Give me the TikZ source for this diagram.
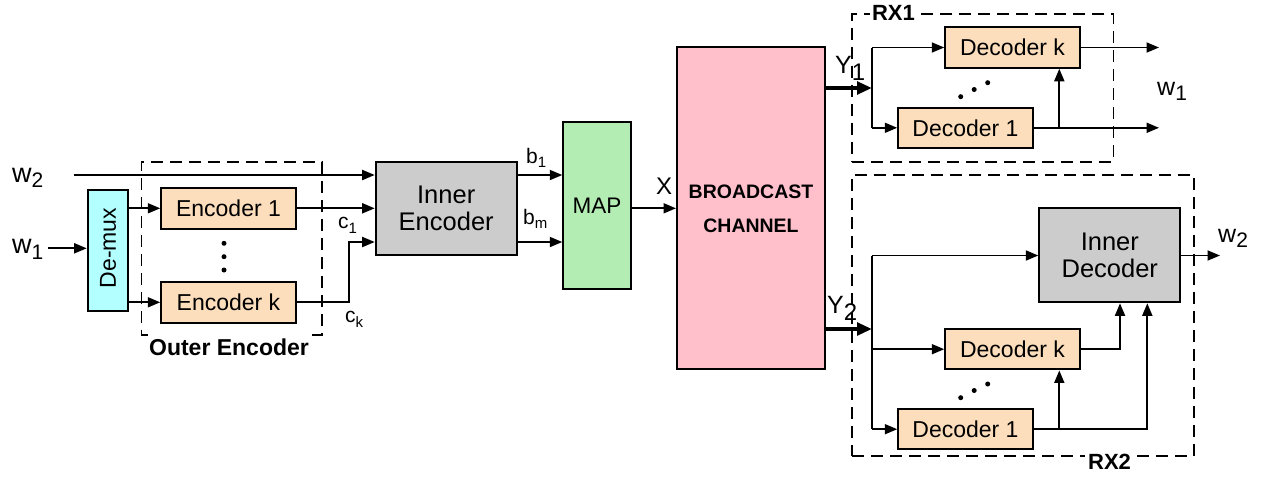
\documentclass[tikz,border=0pt]{standalone}
\usepackage{fontspec}
\setmainfont{Liberation Sans}
\usetikzlibrary{arrows.meta}
\definecolor{cyanbox}{RGB}{179,255,255}
\definecolor{peach}{RGB}{252,222,188}
\definecolor{graybox}{RGB}{204,204,204}
\definecolor{greenbox}{RGB}{179,237,179}
\definecolor{pinkbox}{RGB}{255,192,203}
\newcommand\fsz[1]{\fontsize{#1}{#1}\selectfont}
\newcommand\lsub[3]{\raisebox{-#1pt}{\fsz{#2}#3}}
\begin{document}
\begin{tikzpicture}[x=1pt,y=-1pt,
  blk/.style={draw, line width=2pt, inner sep=0pt, align=center},
  enc/.style={blk, fill=peach, minimum width=134.5pt, minimum height=40.5pt, font=\fsz{23}},
  arr/.style={line width=1.8pt, -{Triangle[length=12.5pt,width=10pt]}},
  ln/.style={line width=1.8pt},
  thk/.style={line width=4pt, -{Triangle[length=15pt,width=12.5pt]}},
  dbox/.style={draw, line width=1.6pt, dash pattern=on 12pt off 7pt, inner sep=0pt},
  lbl/.style={inner sep=0pt, anchor=base west},
  grp/.style={fill=white, anchor=base, font=\bfseries\fsz{22}},
  dotr/.style={fill=black},
]
\useasboundingbox (0,0) rectangle (1271,477);

% dashed group boxes
\node[dbox, minimum width=180.7pt, minimum height=173.3pt] (outer) at (231.65,248.35) {};
\node[dbox, minimum width=261.3pt, minimum height=147.7pt] (rx1) at (982.65,87.85) {};
\node[dbox, minimum width=342pt, minimum height=280.7pt] (rx2) at (1023,315.35) {};

% transmitter blocks
\node[blk, fill=cyanbox, minimum width=40.6pt, minimum height=120.7pt] (dm) at (108,250.3) {};
\node[rotate=90, inner sep=0pt, font=\fsz{23}] (dmt) at (108,248) {De-mux};
\node[enc] (e1) at (228.5,208.3) {Encoder 1};
\node[enc] (ek) at (228.5,302.3) {Encoder k};
\node[blk, fill=graybox, minimum width=141pt, minimum height=93.6pt, font=\fontsize{25.5}{27}\selectfont] (ie) at (446.2,208.5) {Inner\\Encoder};
\node[blk, fill=greenbox, minimum width=67.4pt, minimum height=167.3pt, font=\fsz{22.5}] (map) at (597,205.3) {MAP};
\node[blk, fill=pinkbox, minimum width=148pt, minimum height=322pt, font=\bfseries\fontsize{19.5}{34}\selectfont] (bc) at (751,208.3) {BROADCAST\\CHANNEL};

% receiver 1
\node[enc] (dk1) at (1012.5,47.5) {Decoder k};
\node[enc] (d11) at (965.5,127.8) {Decoder 1};
% receiver 2
\node[blk, fill=graybox, minimum width=141pt, minimum height=94pt, font=\fontsize{25.5}{27}\selectfont] (id) at (1109.8,255.3) {Inner\\Decoder};
\node[enc] (dk2) at (1012.5,349.2) {Decoder k};
\node[enc] (d12) at (965.5,429.2) {Decoder 1};

% group labels
\node[grp, inner xsep=1pt, inner ysep=5pt, font=\bfseries\fsz{23}] (lout) at (229,355) {Outer Encoder};
\node[grp, inner xsep=2pt, inner ysep=4pt] (lrx1) at (893.5,20) {RX1};
\node[grp, inner xsep=3pt, inner ysep=4pt] (lrx2) at (1109.5,469) {RX2};

% signal labels
\node[lbl, font=\fsz{27}] (lw2) at (12,182) {w\lsub{5}{21}{2}};
\node[lbl, font=\fsz{27}] (lw1) at (12,253) {w\lsub{6}{21}{1}};
\node[lbl, font=\fsz{21}] (lc1) at (338,228) {c\lsub{5}{15}{1}};
\node[lbl, font=\fsz{21}] (lck) at (345,322) {c\lsub{5}{15}{k}};
\node[lbl, font=\fsz{21}] (lb1) at (526,163) {b\lsub{4}{15}{1}};
\node[lbl, font=\fsz{21}] (lbm) at (523,224) {b\lsub{4}{15}{m}};
\node[lbl, font=\fsz{24}] (lx) at (656,194) {X};
\node[lbl, font=\fsz{25}] (ly1) at (835,73) {Y\lsub{7}{24}{1}};
\node[lbl, font=\fsz{25}] (ly2) at (827,313) {Y\lsub{7}{24}{2}};
\node[lbl, font=\fsz{25}] (rw1) at (1157,95) {w\lsub{5}{21}{1}};
\node[lbl, font=\fsz{25}] (rw2) at (1218,242) {w\lsub{5}{21}{2}};

% transmitter connectors
\coordinate (w2s) at (74,175);
\draw[arr] (w2s) -- (w2s -| ie.west);
\coordinate (w1s) at (48,248.3);
\draw[arr] (w1s) -- (w1s -| dm.west);
\draw[arr] (dm.east |- e1.west) -- (e1.west);
\draw[arr] (dm.east |- ek.west) -- (ek.west);
\draw[arr] (e1.east) -- (e1.east -| ie.west);
\coordinate (ckb) at (349,242);
\draw[arr] (ek.east) -| (ckb) -- (ckb -| ie.west);
\coordinate (yb1) at (0,175);
\coordinate (ybm) at (0,242);
\draw[arr] (ie.east |- yb1) -- (map.west |- yb1);
\draw[arr] (ie.east |- ybm) -- (map.west |- ybm);
\draw[arr] (map.east |- bc.west) -- (bc.west);
\foreach \yy in {243.3,256.7,270} \fill[dotr] (224,\yy) circle (2.5pt);

% receiver 1 connectors
\coordinate (br1) at (872,88);
\draw[thk] (bc.east |- br1) -- (br1);
\coordinate (t1) at (872,47.5);
\coordinate (u1) at (872,127.8);
\draw[ln] (t1) -- (u1);
\draw[arr] (t1) -- (dk1.west);
\draw[arr] (u1) -- (d11.west);
\coordinate (o1) at (1159,47.5);
\coordinate (o2) at (1159,127.8);
\draw[arr] (dk1.east) -- (o1);
\draw[arr] (d11.east) -- (o2);
\coordinate (j1) at (1059.3,127.8);
\draw[arr] (j1) -- (j1 |- dk1.south);
\fill[dotr] (960.7,96.7) circle (2.5pt) (974.2,89.5) circle (2.5pt) (987.7,82.7) circle (2.5pt);

% receiver 2 connectors
\coordinate (br2) at (872,329);
\draw[thk] (bc.east |- br2) -- (br2);
\coordinate (t2) at (872,255.5);
\coordinate (u2) at (872,429.2);
\draw[ln] (t2) -- (u2);
\draw[arr] (t2) -- (t2 -| id.west);
\draw[arr] (t2 |- dk2.west) -- (dk2.west);
\draw[arr] (u2) -- (d12.west);
\coordinate (k2) at (1120,349.2);
\draw[arr] (dk2.east) -- (k2) -- (k2 |- id.south);
\coordinate (m2) at (1147.3,429.2);
\draw[arr] (d12.east) -- (m2) -- (m2 |- id.south);
\coordinate (j2) at (1059.3,429.2);
\draw[arr] (j2) -- (j2 |- dk2.south);
\coordinate (ow2) at (1220,255.5);
\draw[arr] (id.east |- ow2) -- (ow2);
\fill[dotr] (960.7,397.7) circle (2.5pt) (974.2,390.5) circle (2.5pt) (987.7,384) circle (2.5pt);
\end{tikzpicture}
\end{document}
